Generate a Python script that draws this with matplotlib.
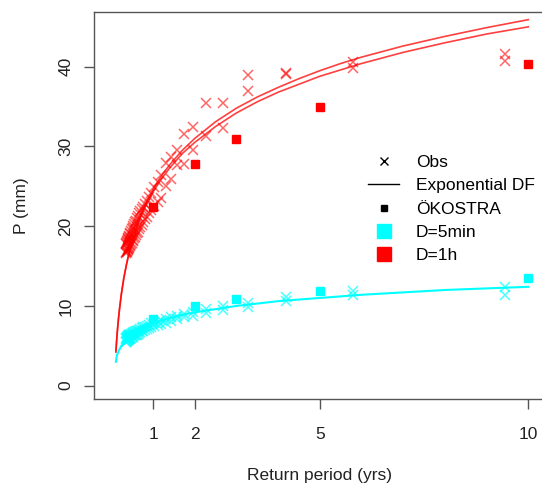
import matplotlib.pyplot as plt
from matplotlib.lines import Line2D

plt.rcParams['font.family'] = ['Liberation Sans', 'DejaVu Sans']

# return periods of the observed (ranked) values, same for every series
T_obs = [9.43, 5.80, 4.20, 3.28, 2.68, 2.28, 1.96, 1.74, 1.57, 1.42, 1.30, 1.19, 1.11, 1.03,
         0.96, 0.91, 0.86, 0.81, 0.77, 0.73, 0.70, 0.67, 0.64, 0.61, 0.59, 0.57, 0.55, 0.53,
         0.51, 0.49, 0.48, 0.46, 0.45, 0.43, 0.42, 0.41, 0.40, 0.39, 0.38, 0.37, 0.36, 0.35]

# D=1h observations (two series)
obs_1h_a = [41.6, 40.6, 39.2, 39.0, 35.4, 35.4, 32.4, 31.6, 29.6, 28.7, 27.9, 26.4, 25.6, 24.9,
            24.2, 23.6, 23.2, 22.8, 22.4, 22.1, 21.9, 21.6, 21.3, 21.0, 20.7, 20.5, 20.3, 20.0,
            19.8, 19.6, 19.4, 19.2, 19.0, 18.8, 18.7, 18.5, 18.4, 18.3, 18.2, 18.0, 17.9, 17.8]
obs_1h_b = [40.7, 39.9, 39.1, 36.9, 32.3, 31.3, 29.5, 27.8, 27.7, 25.9, 25.0, 23.5, 23.0, 22.5,
            22.0, 21.6, 21.2, 20.9, 20.5, 20.2, 19.9, 19.6, 19.3, 19.1, 18.9, 18.7, 18.5, 18.3,
            18.1, 17.9, 17.8, 17.6, 17.5, 17.4, 17.3, 17.2, 17.1, 17.0, 16.9, 16.8, 16.8, 16.7]

# D=5min observations (two series)
obs_5m_a = [12.4, 11.9, 11.1, 10.4, 10.0, 9.6, 9.3, 9.0, 8.8, 8.6, 8.4, 8.2, 8.0, 7.9,
            7.8, 7.6, 7.5, 7.4, 7.3, 7.2, 7.1, 7.0, 6.9, 6.8, 6.8, 6.7, 6.7, 6.6,
            6.6, 6.5, 6.5, 6.4, 6.4, 6.3, 6.3, 6.2, 6.2, 6.1, 6.1, 6.0, 6.0, 5.9]
obs_5m_b = [11.4, 11.4, 10.6, 9.9, 9.5, 9.1, 8.8, 8.6, 8.3, 8.1, 7.9, 7.7, 7.6, 7.5,
            7.3, 7.2, 7.1, 7.0, 6.9, 6.8, 6.7, 6.6, 6.5, 6.4, 6.4, 6.3, 6.3, 6.2,
            6.1, 6.1, 6.0, 6.0, 5.9, 5.9, 5.8, 5.8, 5.7, 5.7, 5.6, 5.6, 5.5, 5.5]

# fitted exponential DF curves
T_fit = [0.11, 0.13, 0.15, 0.17, 0.2, 0.24, 0.3, 0.36, 0.43, 0.5, 0.6, 0.7, 0.85, 1, 1.2,
         1.4, 1.7, 2, 2.5, 3, 3.5, 4, 4.5, 5, 5.5, 6, 7, 8, 9, 10]
fit_1h_a = [4.2, 5.7, 7.1, 8.2, 9.7, 11.4, 13.5, 15.1, 16.8, 18.2, 19.9, 21.3, 23.1, 24.6, 26.3,
            27.7, 29.5, 31.0, 33.1, 34.8, 36.2, 37.4, 38.5, 39.5, 40.4, 41.2, 42.6, 43.8, 44.9, 45.9]
fit_1h_b = [4.4, 5.9, 7.2, 8.4, 9.8, 11.5, 13.5, 15.1, 16.7, 18.1, 19.7, 21.1, 22.8, 24.3, 25.9,
            27.3, 29.1, 30.5, 32.5, 34.2, 35.6, 36.8, 37.8, 38.8, 39.6, 40.4, 41.8, 43.0, 44.1, 45.0]
fit_5m = [3.0, 3.7, 4.0, 4.3, 4.6, 5.0, 5.4, 5.8, 6.1, 6.4, 6.8, 7.1, 7.5, 7.8, 8.2,
          8.5, 8.9, 9.2, 9.6, 10.0, 10.3, 10.6, 10.8, 11.0, 11.2, 11.4, 11.7, 12.0, 12.2, 12.4]

# OEKOSTRA design values
T_ok = [1, 2, 3, 5, 10]
ok_1h = [22.4, 27.8, 30.9, 35.0, 40.3]
ok_5m = [8.4, 10.0, 10.9, 11.9, 13.5]

fig = plt.figure(figsize=(5.42, 4.86), dpi=100)
ax = fig.add_axes([94 / 542, 1 - 399 / 486, 451 / 542, 387 / 486])

red = '#ff0000'
cyan = '#00ffff'

for vals in (obs_1h_a, obs_1h_b):
    ax.plot(T_obs, vals, ls='none', marker='x', ms=6.5, mew=1.1, color=red, alpha=0.6)
for vals in (obs_5m_a, obs_5m_b):
    ax.plot(T_obs, vals, ls='none', marker='x', ms=6.5, mew=1.1, color=cyan, alpha=0.7)

ax.plot(T_fit, fit_1h_a, color=red, lw=1.2, alpha=0.75)
ax.plot(T_fit, fit_1h_b, color=red, lw=1.2, alpha=0.75)
ax.plot(T_fit, fit_5m, color=cyan, lw=1.5)

ax.plot(T_ok, ok_1h, ls='none', marker='s', ms=5.5, color=red)
ax.plot(T_ok, ok_5m, ls='none', marker='s', ms=5.5, color=cyan)

ax.set_xlim(-0.415, 10.40)
ax.set_ylim(-1.67, 46.86)
ax.set_xticks([1, 2, 5, 10])
ax.set_xticklabels(['1', '2', '5', '10'])
ax.set_yticks([0, 10, 20, 30, 40])

for s in ax.spines.values():
    s.set_color('#555555')
    s.set_linewidth(1.0)
ax.tick_params(axis='both', direction='out', length=7, width=1.0, color='#555555',
               labelsize=12.5, labelcolor='#222222', pad=8)
ax.tick_params(axis='x', pad=13)
plt.setp(ax.get_yticklabels(), rotation=90, va='center')

ax.set_xlabel('Return period (yrs)', fontsize=12.5, color='#222222', labelpad=19)
ax.set_ylabel('P (mm)', fontsize=12.5, color='#222222', labelpad=21)

handles = [
    Line2D([], [], ls='none', marker='x', ms=6, mew=1.0, color='black'),
    Line2D([], [], color='black', lw=1.0),
    Line2D([], [], ls='none', marker='s', ms=5, color='black'),
    Line2D([], [], ls='none', marker='s', ms=10, color=cyan),
    Line2D([], [], ls='none', marker='s', ms=10, color=red),
]
labels = ['Obs', 'Exponential DF', 'ÖKOSTRA', 'D=5min', 'D=1h']
fig.legend(handles, labels, loc='upper left', bbox_to_anchor=(368 / 542, 1 - 155 / 486),
           frameon=False, fontsize=12.5, handlelength=1.8, handletextpad=0.95,
           labelspacing=0.47, borderpad=0, borderaxespad=0)

fig.savefig('out.png', dpi=100)
